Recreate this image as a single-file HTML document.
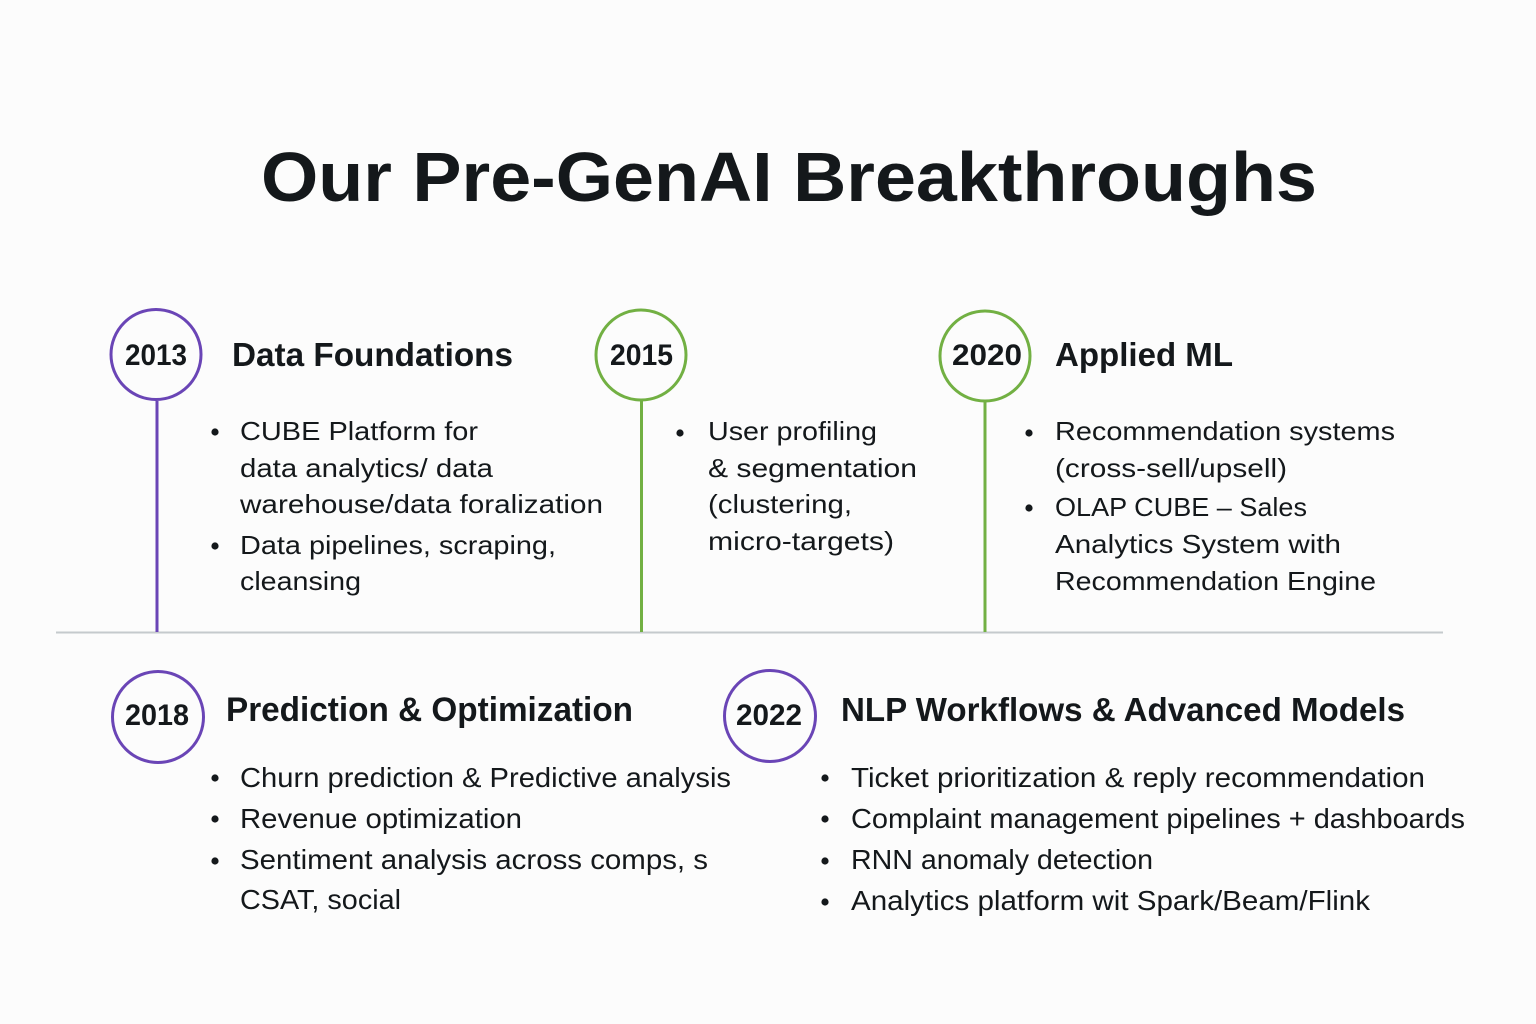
<!DOCTYPE html>
<html>
<head>
<meta charset="utf-8">
<style>
  html, body { margin:0; padding:0; background:#fcfcfc; }
  svg { display:block; }
  .t { font-family:"Liberation Sans", sans-serif; fill:#14181b; }
  .b { font-weight:bold; }
</style>
</head>
<body>
<svg width="1536" height="1024" viewBox="0 0 1536 1024" xmlns="http://www.w3.org/2000/svg">
  <rect x="0" y="0" width="1536" height="1024" fill="#fcfcfc"/>

  <!-- Title -->
  <text class="t b" x="261" y="201" font-size="70" textLength="1056" lengthAdjust="spacingAndGlyphs">Our Pre-GenAI Breakthroughs</text>

  <!-- Horizontal baseline -->
  <line x1="56" y1="632.5" x2="1443" y2="632.5" stroke="#c5cacd" stroke-width="2"/>

  <!-- Vertical connectors -->
  <line x1="157" y1="401" x2="157" y2="632" stroke="#6a45b6" stroke-width="3"/>
  <line x1="641.5" y1="401" x2="641.5" y2="632" stroke="#72b043" stroke-width="3"/>
  <line x1="985" y1="402" x2="985" y2="632" stroke="#72b043" stroke-width="3"/>

  <!-- Circles top -->
  <circle cx="156" cy="354.5" r="45" fill="#fcfcfc" stroke="#6a45b6" stroke-width="3"/>
  <circle cx="641" cy="355" r="45" fill="#fcfcfc" stroke="#72b043" stroke-width="3"/>
  <circle cx="985" cy="356" r="45" fill="#fcfcfc" stroke="#72b043" stroke-width="3"/>

  <!-- Circles bottom -->
  <circle cx="158" cy="717" r="45.5" fill="#fcfcfc" stroke="#6a45b6" stroke-width="3"/>
  <circle cx="770" cy="716" r="45.5" fill="#fcfcfc" stroke="#6a45b6" stroke-width="3"/>

  <!-- Year labels -->
  <text class="t b" x="125" y="365" font-size="30" textLength="62" lengthAdjust="spacingAndGlyphs">2013</text>
  <text class="t b" x="610" y="365" font-size="30" textLength="63" lengthAdjust="spacingAndGlyphs">2015</text>
  <text class="t b" x="952" y="365" font-size="30" textLength="70" lengthAdjust="spacingAndGlyphs">2020</text>
  <text class="t" x="125" y="725" font-size="30" textLength="64" lengthAdjust="spacingAndGlyphs" style="font-weight:600">2018</text>
  <text class="t b" x="736" y="725" font-size="30" textLength="66" lengthAdjust="spacingAndGlyphs">2022</text>

  <!-- Headings -->
  <text class="t b" x="232" y="366" font-size="33" textLength="281" lengthAdjust="spacingAndGlyphs">Data Foundations</text>
  <text class="t b" x="1055" y="366" font-size="33" textLength="178" lengthAdjust="spacingAndGlyphs">Applied ML</text>
  <text class="t b" x="226" y="721" font-size="34" textLength="407" lengthAdjust="spacingAndGlyphs">Prediction &amp; Optimization</text>
  <text class="t b" x="841" y="721" font-size="33" textLength="564" lengthAdjust="spacingAndGlyphs">NLP Workflows &amp; Advanced Models</text>

  <!-- Bullets: Data Foundations -->
  <circle cx="215" cy="432" r="3.6" fill="#14181b"/>
  <circle cx="215" cy="546" r="3.6" fill="#14181b"/>
  <text class="t" x="240" y="440" font-size="26" textLength="238" lengthAdjust="spacingAndGlyphs">CUBE Platform for</text>
  <text class="t" x="240" y="477" font-size="26" textLength="253" lengthAdjust="spacingAndGlyphs">data analytics/ data</text>
  <text class="t" x="240" y="513" font-size="26" textLength="363" lengthAdjust="spacingAndGlyphs">warehouse/data foralization</text>
  <text class="t" x="240" y="554" font-size="26" textLength="316" lengthAdjust="spacingAndGlyphs">Data pipelines, scraping,</text>
  <text class="t" x="240" y="590" font-size="26" textLength="121" lengthAdjust="spacingAndGlyphs">cleansing</text>

  <!-- Bullets: 2015 -->
  <circle cx="680" cy="433" r="3.6" fill="#14181b"/>
  <text class="t" x="708" y="440" font-size="26" textLength="169" lengthAdjust="spacingAndGlyphs">User profiling</text>
  <text class="t" x="708" y="477" font-size="26" textLength="209" lengthAdjust="spacingAndGlyphs">&amp; segmentation</text>
  <text class="t" x="708" y="513" font-size="26" textLength="144" lengthAdjust="spacingAndGlyphs">(clustering,</text>
  <text class="t" x="708" y="550" font-size="26" textLength="186" lengthAdjust="spacingAndGlyphs">micro-targets)</text>

  <!-- Bullets: Applied ML -->
  <circle cx="1029" cy="433" r="3.6" fill="#14181b"/>
  <circle cx="1029" cy="508" r="3.6" fill="#14181b"/>
  <text class="t" x="1055" y="440" font-size="26" textLength="340" lengthAdjust="spacingAndGlyphs">Recommendation systems</text>
  <text class="t" x="1055" y="477" font-size="26" textLength="232" lengthAdjust="spacingAndGlyphs">(cross-sell/upsell)</text>
  <text class="t" x="1055" y="516" font-size="26" textLength="252" lengthAdjust="spacingAndGlyphs">OLAP CUBE – Sales</text>
  <text class="t" x="1055" y="553" font-size="26" textLength="286" lengthAdjust="spacingAndGlyphs">Analytics System with</text>
  <text class="t" x="1055" y="590" font-size="26" textLength="321" lengthAdjust="spacingAndGlyphs">Recommendation Engine</text>

  <!-- Bullets: Prediction & Optimization -->
  <circle cx="215" cy="778" r="3.6" fill="#14181b"/>
  <circle cx="215" cy="819" r="3.6" fill="#14181b"/>
  <circle cx="215" cy="861" r="3.6" fill="#14181b"/>
  <text class="t" x="240" y="787" font-size="28" textLength="491" lengthAdjust="spacingAndGlyphs">Churn prediction &amp; Predictive analysis</text>
  <text class="t" x="240" y="828" font-size="28" textLength="282" lengthAdjust="spacingAndGlyphs">Revenue optimization</text>
  <text class="t" x="240" y="869" font-size="28" textLength="468" lengthAdjust="spacingAndGlyphs">Sentiment analysis across comps, s</text>
  <text class="t" x="240" y="909" font-size="28" textLength="161" lengthAdjust="spacingAndGlyphs">CSAT, social</text>

  <!-- Bullets: NLP -->
  <circle cx="825" cy="778" r="3.6" fill="#14181b"/>
  <circle cx="825" cy="819" r="3.6" fill="#14181b"/>
  <circle cx="825" cy="861" r="3.6" fill="#14181b"/>
  <circle cx="825" cy="902" r="3.6" fill="#14181b"/>
  <text class="t" x="851" y="787" font-size="28" textLength="574" lengthAdjust="spacingAndGlyphs">Ticket prioritization &amp; reply recommendation</text>
  <text class="t" x="851" y="828" font-size="28" textLength="614" lengthAdjust="spacingAndGlyphs">Complaint management pipelines + dashboards</text>
  <text class="t" x="851" y="869" font-size="28" textLength="302" lengthAdjust="spacingAndGlyphs">RNN anomaly detection</text>
  <text class="t" x="851" y="910" font-size="28" textLength="519" lengthAdjust="spacingAndGlyphs">Analytics platform wit Spark/Beam/Flink</text>
</svg>
</body>
</html>
